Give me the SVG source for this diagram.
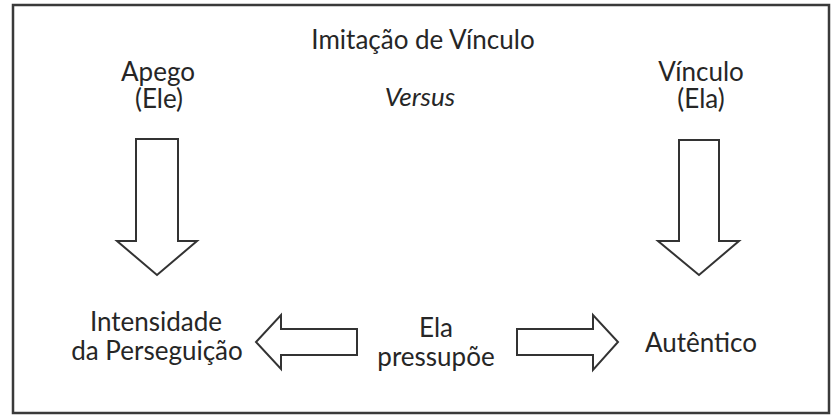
<svg xmlns="http://www.w3.org/2000/svg" width="838" height="419" viewBox="0 0 838 419">
<style>
.t{font-family:Lato,"Open Sans","DejaVu Sans",sans-serif;font-size:26px;fill:#262626;text-anchor:middle}
.i{font-style:italic}
.ar{fill:#fff;stroke:#333;stroke-width:2;stroke-linejoin:miter}
</style>
<rect x="0" y="0" width="838" height="419" fill="#fff"/>
<rect x="13" y="5" width="816" height="408" fill="none" stroke="#3a3a3a" stroke-width="2.5"/>
<g id="title"><text class="t" x="423" y="49">Imitação de Vínculo</text></g>
<g id="versus"><text class="t i" x="420" y="106">Versus</text></g>
<g id="apego"><text class="t" x="158" y="81">Apego</text><text class="t" x="159" y="108">(Ele)</text></g>
<g id="vinculo"><text class="t" x="701" y="81">Vínculo</text><text class="t" x="701" y="108">(Ela)</text></g>
<g id="intensidade"><text class="t" x="156" y="331">Intensidade</text><text class="t" x="157" y="360">da Perseguição</text></g>
<g id="pressupoe"><text class="t" x="436" y="337">Ela</text><text class="t" x="436" y="366">pressupõe</text></g>
<g id="autentico"><text class="t" x="701" y="352">Autêntico</text></g>
<g id="connectors">
<polygon class="ar" points="136,139 178,139 178,241 197,241 157,275 117,241 136,241"/>
<polygon class="ar" points="679,140 719,140 719,241 739,241 699,275 658,241 679,241"/>
<polygon class="ar" points="357,329 357,355 281,355 281,369 256,342 281,315 281,329"/>
<polygon class="ar" points="517,329 593,329 593,315 618,342 593,370 593,355 517,355"/>
</g>
</svg>
